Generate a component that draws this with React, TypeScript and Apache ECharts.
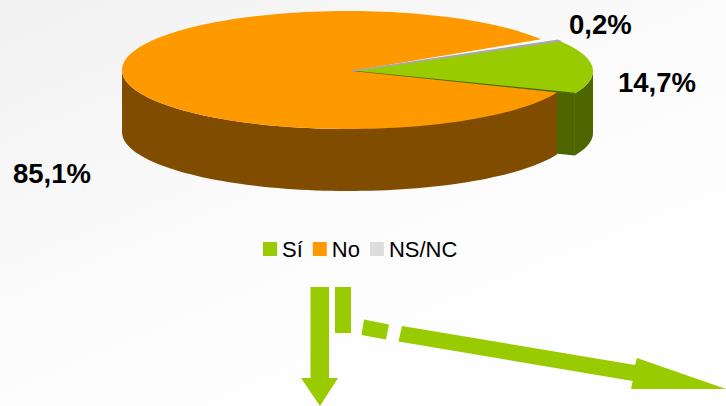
import React, { useEffect, useRef } from "react";
import * as echarts from "echarts";

const categories = ["Sí", "No", "NS/NC"];
const values = [14.7, 85.1, 0.2];
const labels = ["14,7%", "85,1%", "0,2%"];
const colors = ["#99cc00", "#ff9900", "#dddddd"];
const wallColors = ["#4d6600", "#804d00", "#777777"];

const START = -30.6;
const APEX = [352, 71];
const DEPTH = 62;
const RIMS = [
  { cx: 352, cy: 71, rx: 241, ry: 59 },
  { cx: 348, cy: 70, rx: 226, ry: 59 },
  { cx: 352, cy: 71, rx: 241, ry: 59 },
];
const LABEL_POS = [[618, 82], [13, 173], [569, 24]];
const GREEN = "#99cc00";
const ARROW_A = [[310.5, 287], [329, 287], [329, 378], [338, 378], [320, 406], [301, 378], [310.5, 378]];
const BAR_B = [[335, 287], [351, 287], [351, 333], [335, 333]];
const DASH_C = [[364, 319.5], [389, 324.5], [386, 339.5], [361.5, 335]];
const ARROW_D = [[402, 326], [635, 365], [637, 358], [726, 389], [631, 389], [632.7, 381], [398.5, 341.5]];

const total = values.reduce((a, b) => a + b, 0);

function angles(i: number) {
  let s = START;
  for (let k = 0; k < i; k++) s += (values[k] / total) * 360;
  return [s, s + (values[i] / total) * 360];
}

function rimPts(i: number, a0: number, a1: number, dy = 0) {
  const r = RIMS[i];
  const n = Math.max(2, Math.ceil(Math.abs(a1 - a0) / 2));
  const pts: number[][] = [];
  for (let k = 0; k <= n; k++) {
    const t = ((a0 + ((a1 - a0) * k) / n) * Math.PI) / 180;
    pts.push([r.cx + r.rx * Math.cos(t), r.cy + r.ry * Math.sin(t) + dy]);
  }
  return pts;
}

const makeItem = (i: number) => (params: any, api: any) => {
  const [a0, a1] = angles(i);
  const children: any[] = [];
  const wall = { fill: wallColors[i] };
  if (i === 0) {
    const rim = rimPts(0, a1, a1, 0)[0];
    children.push({ type: "polygon", shape: { points: [APEX, rim, [rim[0], rim[1] + DEPTH], [APEX[0], APEX[1] + DEPTH]] }, style: wall });
    const top = rimPts(0, 0, a1);
    const bottom = rimPts(0, a1, 0, DEPTH);
    children.push({ type: "polygon", shape: { points: [...top, ...bottom] }, style: wall });
  }
  if (i === 1) {
    const top = rimPts(1, a0, 180);
    const bottom = rimPts(1, 180, a0, DEPTH);
    children.push({ type: "polygon", shape: { points: [...top, ...bottom] }, style: wall });
  }
  const face = [APEX, ...rimPts(i, a0, a1)];
  children.push({
    type: "polygon",
    shape: { points: face },
    style: i === 2 ? { fill: colors[i], stroke: "#a8a8a8", lineWidth: 1.6 } : { fill: colors[i] },
  });
  if (i === 0) {
    children.push({ type: "line", shape: { x1: APEX[0], y1: APEX[1], x2: rimPts(0, a1, a1)[0][0], y2: rimPts(0, a1, a1)[0][1] }, style: { stroke: wallColors[0], lineWidth: 1.2 } });
  }
  children.push({
    type: "text",
    x: LABEL_POS[i][0],
    y: LABEL_POS[i][1],
    style: { text: labels[i], fill: "#000000", font: "bold 27.5px 'Liberation Sans'", textVerticalAlign: "middle", verticalAlign: "middle" },
  });
  return { type: "group", children };
};

export default function App() {
  const ref = useRef<HTMLDivElement>(null);
  useEffect(() => {
    const chart = echarts.init(ref.current!, undefined, { renderer: "svg" });
    const drawOrder = [0, 1, 2];
    chart.setOption({
      animation: false,
      backgroundColor: {
        type: "linear", x: 0, y: 0, x2: 0.75, y2: 1,
        colorStops: [{ offset: 0, color: "#f1f1f1" }, { offset: 0.55, color: "#fcfcfc" }, { offset: 1, color: "#ffffff" }],
      },
      legend: {
        left: 258,
        top: 233,
        itemWidth: 14,
        itemHeight: 14,
        itemGap: 10,
        icon: "rect",
        data: categories,
        textStyle: { fontFamily: "Liberation Sans", fontSize: 22, color: "#000000" },
      },
      series: drawOrder.map((i) => ({
        type: "custom",
        name: categories[i],
        coordinateSystem: "none",
        silent: true,
        z: 2 + i,
        itemStyle: { color: colors[i] },
        data: [values[i]],
        renderItem: makeItem(i),
      })),
      graphic: [ARROW_A, BAR_B, DASH_C, ARROW_D].map((points) => ({
        type: "polygon",
        shape: { points },
        style: { fill: GREEN },
        silent: true,
      })),
    });
    return () => chart.dispose();
  }, []);
  return <div ref={ref} style={{ position: "fixed", left: 0, top: 0, width: 726, height: 406 }} />;
}
